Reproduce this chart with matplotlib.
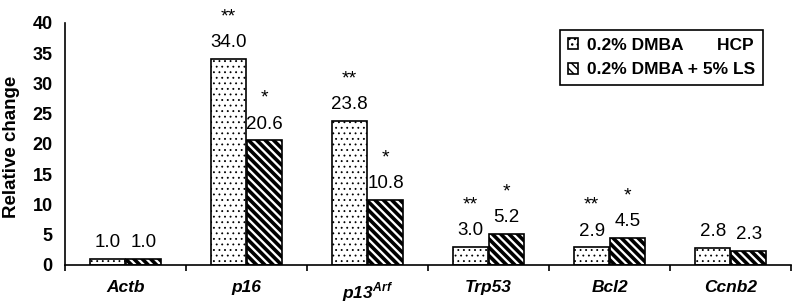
import matplotlib
matplotlib.use('Agg')
import matplotlib.pyplot as plt
from matplotlib.ticker import FixedLocator
import numpy as np

plt.rcParams['font.family'] = ['Liberation Sans', 'DejaVu Sans']
plt.rcParams['mathtext.fontset'] = 'custom'
plt.rcParams['mathtext.bfit'] = 'Liberation Sans:italic:bold'
plt.rcParams['hatch.color'] = 'black'

# ── Data ──────────────────────────────────────────────────────────────────────
genes = ['Actb', 'p16', r'$\mathbfit{p13}^{\mathbfit{Arf}}$', 'Trp53', 'Bcl2', 'Ccnb2']
hcp = [1.0, 34.0, 23.8, 3.0, 2.9, 2.8]
ls = [1.0, 20.6, 10.8, 5.2, 4.5, 2.3]
hcp_stars = ['', '**', '**', '**', '**', '']
ls_stars = ['', '*', '*', '*', '*', '']
series_labels = ['0.2% DMBA       HCP', '0.2% DMBA + 5% LS']

fig = plt.figure(figsize=(8.0, 3.06), dpi=100)
ax = fig.add_axes([0.0815, 0.134, 0.9075, 0.791])

x = np.arange(len(genes))
w = 0.285
off = 0.149

b1 = ax.bar(x - off, hcp, w, color='white', edgecolor='black', linewidth=1.2,
            hatch='...', label=series_labels[0], zorder=2)
b2 = ax.bar(x + off, ls, w, color='white', edgecolor='black', linewidth=1.2,
            hatch='\\\\\\\\', label=series_labels[1], zorder=2)
for p in b2:
    try:
        p.set_hatch_linewidth(2.6)
    except AttributeError:
        pass
for p in b1:
    try:
        p.set_hatch_linewidth(0.6)
    except AttributeError:
        pass

# value labels and significance stars
for bars, vals, stars in ((b1, hcp, hcp_stars), (b2, ls, ls_stars)):
    for rect, v, s in zip(bars, vals, stars):
        cx = rect.get_x() + rect.get_width() / 2
        ax.annotate(f'{v:.1f}', (cx, v), xytext=(0, 8.5), textcoords='offset points',
                    ha='center', va='baseline', fontsize=13.5, annotation_clip=False)
        if s:
            ax.annotate(s, (cx, v), xytext=(0, 27), textcoords='offset points',
                        ha='center', va='baseline', fontsize=14, annotation_clip=False)

ax.set_xlim(-0.5, len(genes) - 0.5)
ax.set_ylim(0, 40)
ax.set_yticks(range(0, 41, 5))
ax.tick_params(axis='y', length=0, pad=9, labelsize=13)
for t in ax.get_yticklabels():
    t.set_fontweight('bold')

ax.set_xticks(x)
ax.set_xticklabels(genes, fontsize=12.5, fontweight='bold', fontstyle='italic')
ax.xaxis.set_minor_locator(FixedLocator(np.arange(-0.5, len(genes), 1.0)))
ax.tick_params(axis='x', which='major', length=0, pad=11)
ax.tick_params(axis='x', which='minor', length=4, width=1.2, direction='out')

for side in ('top', 'right'):
    ax.spines[side].set_visible(False)
for side in ('left', 'bottom'):
    ax.spines[side].set_linewidth(1.2)

ax.set_ylabel('Relative change', fontsize=13.5, fontweight='bold')
ax.yaxis.set_label_coords(-0.062, 0.49)

leg = ax.legend(loc='upper right', bbox_to_anchor=(0.961, 0.971), borderaxespad=0,
                frameon=True, fancybox=False, edgecolor='black', framealpha=1,
                prop={'weight': 'bold', 'size': 12.5}, handlelength=0.6,
                handleheight=0.6, handletextpad=0.5, borderpad=0.45, labelspacing=0.55)
leg.get_frame().set_linewidth(1.2)

fig.savefig('out.png', dpi=100)
